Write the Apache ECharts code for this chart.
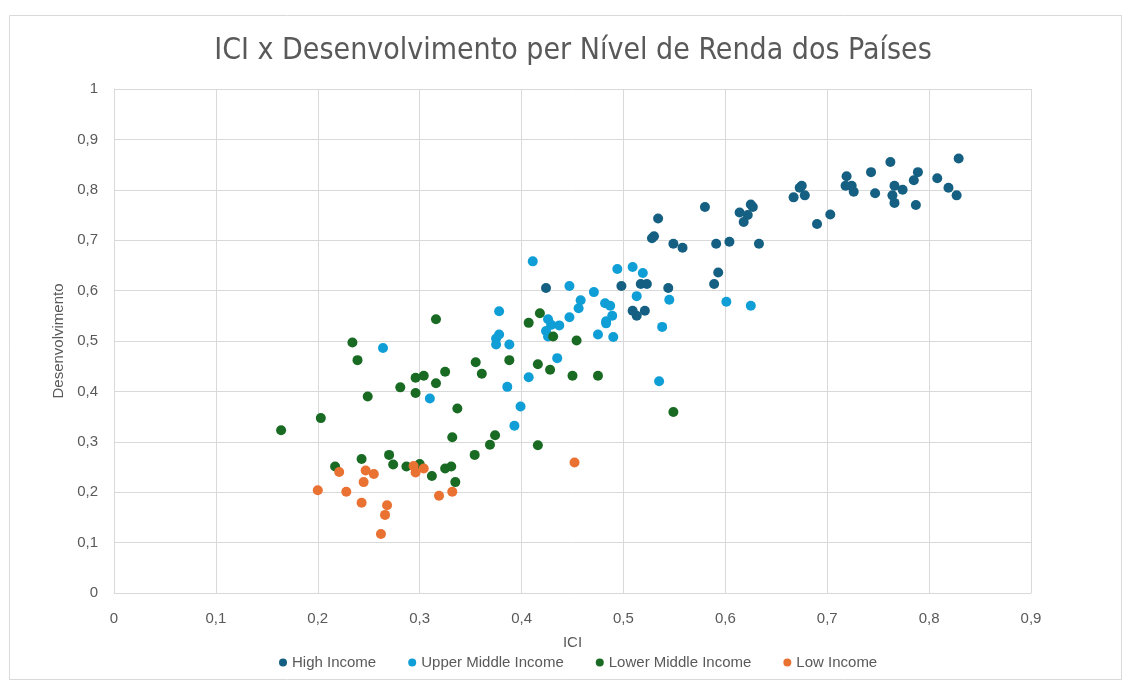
<!DOCTYPE html>
<html>
<head>
<meta charset="utf-8">
<script src="https://cdn.jsdelivr.net/npm/echarts@6/dist/echarts.min.js"></script>
<style>
html,body{margin:0;padding:0;background:#fff;}
#chart{width:1126px;height:684px;}
</style>
</head>
<body>
<div id="chart"></div>
<script>
const chartTitle = 'ICI x Desenvolvimento per Nível de Renda dos Países';
const xAxisName = 'ICI';
const yAxisName = 'Desenvolvimento';
const seriesNames = ['High Income', 'Upper Middle Income', 'Lower Middle Income', 'Low Income'];

const highX = [0.424,0.498,0.517,0.523,0.509,0.513,0.521,0.580,0.534,0.528,0.530,0.549,0.558,0.591,0.604,0.633,0.614,0.622,0.618,0.625,0.627,0.593,0.589,0.544,0.667,0.673,0.675,0.678,0.690,0.703,0.719,0.718,0.724,0.726,0.743,0.747,0.762,0.766,0.764,0.766,0.774,0.785,0.789,0.787,0.808,0.819,0.827,0.829];
const highY = [0.605,0.609,0.613,0.613,0.560,0.550,0.560,0.766,0.743,0.704,0.708,0.693,0.685,0.693,0.697,0.693,0.755,0.750,0.736,0.771,0.766,0.636,0.613,0.605,0.785,0.804,0.808,0.789,0.732,0.751,0.827,0.808,0.808,0.796,0.835,0.793,0.855,0.808,0.789,0.774,0.800,0.819,0.835,0.770,0.823,0.804,0.789,0.862];

const upperX = [0.411,0.447,0.471,0.458,0.456,0.482,0.487,0.494,0.509,0.519,0.513,0.489,0.483,0.483,0.475,0.490,0.447,0.437,0.426,0.429,0.424,0.426,0.378,0.378,0.375,0.375,0.388,0.435,0.407,0.386,0.399,0.393,0.310,0.545,0.538,0.601,0.625,0.535,0.264];
const upperY = [0.658,0.609,0.597,0.581,0.565,0.575,0.570,0.643,0.647,0.635,0.589,0.550,0.539,0.535,0.513,0.508,0.547,0.531,0.543,0.532,0.520,0.509,0.559,0.513,0.505,0.493,0.493,0.466,0.428,0.409,0.370,0.332,0.386,0.582,0.528,0.578,0.570,0.420,0.486];

const lowerX = [0.316,0.234,0.239,0.296,0.304,0.325,0.316,0.281,0.296,0.249,0.337,0.203,0.164,0.332,0.374,0.369,0.354,0.270,0.243,0.274,0.287,0.300,0.217,0.325,0.331,0.312,0.335,0.355,0.361,0.388,0.418,0.407,0.431,0.454,0.416,0.428,0.450,0.475,0.416,0.549];
const lowerY = [0.543,0.497,0.462,0.427,0.431,0.439,0.416,0.408,0.397,0.390,0.366,0.347,0.323,0.309,0.313,0.294,0.274,0.274,0.266,0.255,0.251,0.256,0.251,0.247,0.251,0.232,0.220,0.458,0.435,0.462,0.555,0.536,0.509,0.501,0.454,0.443,0.431,0.431,0.293,0.359];

const lowX = [0.294,0.304,0.296,0.221,0.247,0.255,0.245,0.200,0.228,0.319,0.332,0.243,0.268,0.266,0.262,0.452];
const lowY = [0.252,0.247,0.239,0.240,0.243,0.236,0.220,0.204,0.201,0.193,0.201,0.179,0.174,0.155,0.117,0.259];

const colors = ['#156082', '#0F9ED5', '#196B24', '#E97132'];

function pairs(xs, ys) { return xs.map((x, i) => [x, ys[i]]); }
const seriesData = [pairs(highX, highY), pairs(upperX, upperY), pairs(lowerX, lowerY), pairs(lowX, lowY)];

const fontMain = "'Liberation Sans', Arial, sans-serif";
const fontTitle = "'DejaVu Sans Condensed', sans-serif";
const fmt = v => String(+v.toFixed(2)).replace('.', ',');

const chart = echarts.init(document.getElementById('chart'), null, {renderer: 'canvas'});
chart.setOption({
  animation: false,
  backgroundColor: '#ffffff',
  graphic: [{
    type: 'rect', left: 7, top: 13, z: -1,
    shape: {width: 1112, height: 664},
    style: {fill: 'none', stroke: '#d9d9d9', lineWidth: 1}
  }],
  title: {
    text: chartTitle,
    left: 568, top: 31, textAlign: 'center',
    textStyle: {fontFamily: fontTitle, fontSize: 30, fontWeight: 'normal', color: '#595959'}
  },
  legend: {
    data: seriesNames,
    left: 274, top: 650,
    icon: 'circle', itemWidth: 8, itemHeight: 8, itemGap: 32,
    textStyle: {fontFamily: fontMain, fontSize: 15, color: '#595959'}
  },
  grid: {left: 114, right: 95, top: 89, bottom: 91, containLabel: false},
  xAxis: {
    type: 'value', min: 0, max: 0.9, interval: 0.1,
    name: xAxisName, nameLocation: 'middle', nameGap: 42,
    nameTextStyle: {fontFamily: fontMain, fontSize: 15, color: '#595959'},
    axisLine: {show: true, lineStyle: {color: '#d9d9d9'}},
    axisTick: {show: false},
    axisLabel: {formatter: fmt, margin: 18, fontFamily: fontMain, fontSize: 15, color: '#595959'},
    splitLine: {show: true, lineStyle: {color: '#d9d9d9'}}
  },
  yAxis: {
    type: 'value', min: 0, max: 1, interval: 0.1,
    name: yAxisName, nameLocation: 'middle', nameGap: 44,
    nameTextStyle: {fontFamily: fontMain, fontSize: 15, color: '#595959'},
    axisLine: {show: true, lineStyle: {color: '#d9d9d9'}},
    axisTick: {show: false},
    axisLabel: {formatter: fmt, margin: 16, fontFamily: fontMain, fontSize: 15, color: '#595959'},
    splitLine: {show: true, lineStyle: {color: '#d9d9d9'}}
  },
  series: seriesNames.map((name, i) => ({
    name: name, type: 'scatter', data: seriesData[i],
    symbol: 'circle', symbolSize: 10,
    itemStyle: {color: colors[i], opacity: 1}
  }))
});
</script>
</body>
</html>
